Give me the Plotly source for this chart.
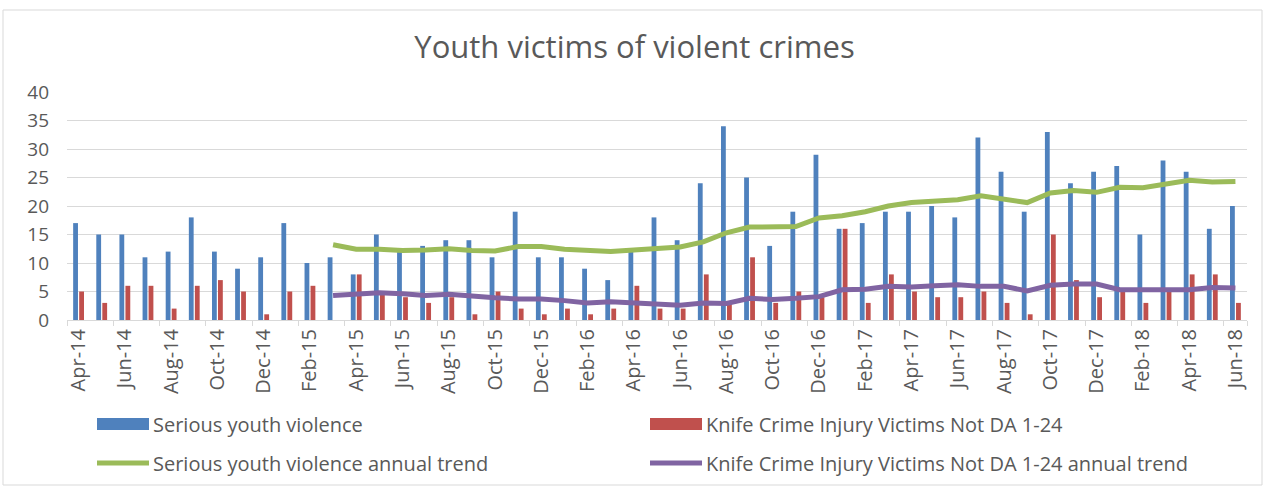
import plotly.graph_objects as go

# Monthly categories, Apr 2014 to Jun 2018
months = [
    "Apr-14", "May-14", "Jun-14", "Jul-14", "Aug-14", "Sep-14", "Oct-14", "Nov-14", "Dec-14", "Jan-15", "Feb-15", "Mar-15",
    "Apr-15", "May-15", "Jun-15", "Jul-15", "Aug-15", "Sep-15", "Oct-15", "Nov-15", "Dec-15", "Jan-16", "Feb-16", "Mar-16",
    "Apr-16", "May-16", "Jun-16", "Jul-16", "Aug-16", "Sep-16", "Oct-16", "Nov-16", "Dec-16", "Jan-17", "Feb-17", "Mar-17",
    "Apr-17", "May-17", "Jun-17", "Jul-17", "Aug-17", "Sep-17", "Oct-17", "Nov-17", "Dec-17", "Jan-18", "Feb-18", "Mar-18",
    "Apr-18", "May-18", "Jun-18",
]

serious_youth_violence = [
    17, 15, 15, 11, 12, 18, 12, 9, 11, 17, 10, 11,
    8, 15, 12, 13, 14, 14, 11, 19, 11, 11, 9, 7,
    12, 18, 14, 24, 34, 25, 13, 19, 29, 16, 17, 19,
    19, 20, 18, 32, 26, 19, 33, 24, 26, 27, 15, 28,
    26, 16, 20,
]

knife_crime_victims = [
    5, 3, 6, 6, 2, 6, 7, 5, 1, 5, 6, 0,
    8, 5, 4, 3, 4, 1, 5, 2, 1, 2, 1, 2,
    6, 2, 2, 8, 3, 11, 3, 5, 4, 16, 3, 8,
    5, 4, 4, 5, 3, 1, 15, 7, 4, 5, 3, 5,
    8, 8, 3,
]

# Annual trend lines begin once a full year of data exists (Mar-15)
trend_months = months[11:]

serious_trend = [
    13.2, 12.4, 12.4, 12.2, 12.3, 12.5, 12.2, 12.1, 12.9, 12.9,
    12.4, 12.3, 12.0, 12.3, 12.6, 12.8, 13.7, 15.3, 16.3, 16.4,
    16.4, 17.9, 18.3, 19.0, 20.0, 20.6, 20.8, 21.1, 21.8, 21.1,
    20.6, 22.3, 22.7, 22.4, 23.3, 23.2, 23.9, 24.5, 24.2, 24.3,
]

knife_trend = [
    4.3, 4.6, 4.8, 4.6, 4.3, 4.5, 4.1, 3.9, 3.7, 3.7,
    3.4, 3.0, 3.2, 3.0, 2.8, 2.6, 3.0, 2.9, 3.8, 3.6,
    3.8, 4.1, 5.3, 5.4, 5.9, 5.8, 6.0, 6.2, 5.9, 5.9,
    5.1, 6.1, 6.3, 6.3, 5.3, 5.3, 5.1, 5.3, 5.7, 5.6,
]

series_names = [
    "Serious youth violence",
    "Knife Crime Injury Victims Not DA 1-24",
    "Serious youth violence annual trend",
    "Knife Crime Injury Victims Not DA 1-24 annual trend",
]

BLUE = "#4F81BD"
RED = "#C0504D"
GREEN = "#9BBB59"
PURPLE = "#8064A2"
TEXT = "#595959"
GRID = "#D9D9D9"
FONT = "Open Sans"

W, H = 1269, 487
L, R, T, B = 67, 22, 92, 167
PW, PH = W - L - R, H - T - B


def px(x):
    return (x - L) / PW


def py(y):
    return (H - B - y) / PH


fig = go.Figure()
fig.add_trace(go.Bar(x=months, y=serious_youth_violence, name=series_names[0],
                     marker=dict(color=BLUE, line_width=0)))
fig.add_trace(go.Bar(x=months, y=knife_crime_victims, name=series_names[1],
                     marker=dict(color=RED, line_width=0)))
fig.add_trace(go.Scatter(x=trend_months, y=serious_trend, name=series_names[2],
                         mode="lines", line=dict(color=GREEN, width=5)))
fig.add_trace(go.Scatter(x=trend_months, y=knife_trend, name=series_names[3],
                         mode="lines", line=dict(color=PURPLE, width=5)))

shapes = [
    # outer chart frame
    dict(type="rect", xref="paper", yref="paper",
         x0=px(3), x1=px(1262), y0=py(485), y1=py(10),
         line=dict(color=GRID, width=1), fillcolor="rgba(0,0,0,0)", layer="below"),
]
annotations = []

# legend: two columns, two rows
legend_rows = [(424, 0, "bar"), (424, 1, "bar"), (463, 2, "line"), (463, 3, "line")]
colors = [BLUE, RED, GREEN, PURPLE]
col_x = [97, 650]
for i, (yc, idx, kind) in enumerate(legend_rows):
    x0 = col_x[i % 2]
    x1 = x0 + 52
    if kind == "bar":
        shapes.append(dict(type="rect", xref="paper", yref="paper",
                           x0=px(x0), x1=px(x1), y0=py(yc + 6), y1=py(yc - 6),
                           line_width=0, fillcolor=colors[idx]))
    else:
        shapes.append(dict(type="line", xref="paper", yref="paper",
                           x0=px(x0), x1=px(x1), y0=py(yc), y1=py(yc),
                           line=dict(color=colors[idx], width=5)))
    annotations.append(dict(xref="paper", yref="paper", x=px(x1 + 2), y=py(yc),
                            xanchor="left", yanchor="middle", showarrow=False,
                            text=series_names[idx],
                            font=dict(family=FONT, size=20, color=TEXT)))

fig.update_layout(
    width=W, height=H,
    margin=dict(l=L, r=R, t=T, b=B, autoexpand=False),
    paper_bgcolor="white", plot_bgcolor="white",
    barmode="group", bargap=0.48, bargroupgap=0.2,
    showlegend=False,
    title=dict(text="Youth victims of violent crimes", x=0.5, xanchor="center",
               y=1 - 47 / H, yanchor="middle", yref="container",
               font=dict(family=FONT, size=31, color=TEXT)),
    font=dict(family=FONT, color=TEXT),
    shapes=shapes,
    annotations=annotations,
)

fig.update_xaxes(
    type="category", categoryorder="array", categoryarray=months,
    range=[-0.5, len(months) - 0.5],
    tickmode="array", tickvals=months[::2], ticktext=months[::2],
    tickson="boundaries", ticks="outside", ticklen=5, tickcolor=GRID,
    tickangle=-90, tickfont=dict(family=FONT, size=20, color=TEXT),
    showgrid=False, showline=True, linecolor=GRID, linewidth=1,
    zeroline=False, automargin=False,
)
fig.update_yaxes(
    range=[0, 40], tick0=0, dtick=5,
    showgrid=True, gridcolor=GRID, gridwidth=1,
    zeroline=False, showline=False, ticks="",
    ticklabelstandoff=17,
    tickfont=dict(family=FONT, size=19, color=TEXT),
    automargin=False,
)

fig.write_html("out.html")
